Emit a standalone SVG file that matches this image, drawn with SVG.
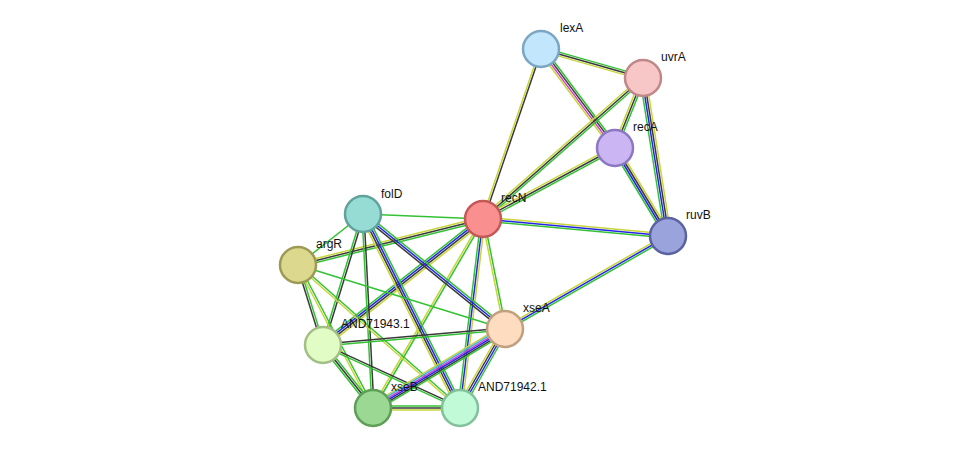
<svg xmlns="http://www.w3.org/2000/svg" width="975" height="455" viewBox="0 0 975 455">
<style>
line{stroke-width:1.5;fill:none}
.g{stroke:#33c233}.y{stroke:#c7d53a}.k{stroke:#3a3a3a}.b{stroke:#2424e8}.m{stroke:#d23ad2}.c{stroke:#3cb4dc}
circle{stroke-width:2.5}
text{font-family:"Liberation Sans",Arial,sans-serif;font-size:12px;fill:#111}
</style>
<rect width="975" height="455" fill="#fff"/>
<g id="edges">
<line class="g" x1="541.5" y1="47.1" x2="643.5" y2="76.1"/><line class="k" x1="541" y1="49" x2="643" y2="78"/><line class="y" x1="540.5" y1="50.9" x2="642.5" y2="79.9"/>
<line class="g" x1="543.4" y1="47.2" x2="617.4" y2="146.2"/><line class="k" x1="541.8" y1="48.4" x2="615.8" y2="147.4"/><line class="m" x1="540.2" y1="49.6" x2="614.2" y2="148.6"/><line class="y" x1="538.6" y1="50.8" x2="612.6" y2="149.8"/>
<line class="k" x1="541.9" y1="49.3" x2="483.9" y2="219.3"/><line class="y" x1="540.1" y1="48.7" x2="482.1" y2="218.7"/>
<line class="g" x1="644.9" y1="78.7" x2="616.9" y2="148.7"/><line class="k" x1="643" y1="78" x2="615" y2="148"/><line class="y" x1="641.1" y1="77.3" x2="613.1" y2="147.3"/>
<line class="g" x1="644.3" y1="79.5" x2="484.3" y2="220.5"/><line class="k" x1="643" y1="78" x2="483" y2="219"/><line class="y" x1="641.7" y1="76.5" x2="481.7" y2="217.5"/>
<line class="y" x1="646" y1="77.5" x2="671" y2="235.5"/><line class="k" x1="644" y1="77.8" x2="669" y2="235.8"/><line class="b" x1="642" y1="78.2" x2="667" y2="236.2"/><line class="g" x1="640" y1="78.5" x2="665" y2="236.5"/>
<line class="g" x1="615.9" y1="149.8" x2="483.9" y2="220.8"/><line class="k" x1="615" y1="148" x2="483" y2="219"/><line class="y" x1="614.1" y1="146.2" x2="482.1" y2="217.2"/>
<line class="y" x1="617.6" y1="146.5" x2="670.6" y2="234.5"/><line class="k" x1="615.9" y1="147.5" x2="668.9" y2="235.5"/><line class="b" x1="614.2" y1="148.5" x2="667.2" y2="236.5"/><line class="g" x1="612.5" y1="149.5" x2="665.5" y2="237.5"/>
<line class="y" x1="483.2" y1="217" x2="668.2" y2="234"/><line class="b" x1="483" y1="219" x2="668" y2="236"/><line class="g" x1="482.8" y1="221" x2="667.8" y2="238"/>
<line class="g" x1="483" y1="219" x2="363" y2="214"/>
<line class="g" x1="483.5" y1="220.9" x2="298.5" y2="266.9"/><line class="k" x1="483" y1="219" x2="298" y2="265"/><line class="y" x1="482.5" y1="217.1" x2="297.5" y2="263.1"/>
<line class="y" x1="484.9" y1="221.3" x2="324.9" y2="347.3"/><line class="k" x1="483.6" y1="219.8" x2="323.6" y2="345.8"/><line class="b" x1="482.4" y1="218.2" x2="322.4" y2="344.2"/><line class="g" x1="481.1" y1="216.7" x2="321.1" y2="342.7"/>
<line class="g" x1="484" y1="218.8" x2="506" y2="328.8"/><line class="y" x1="482" y1="219.2" x2="504" y2="329.2"/>
<line class="g" x1="483.9" y1="219.5" x2="373.9" y2="408.5"/><line class="y" x1="482.1" y1="218.5" x2="372.1" y2="407.5"/>
<line class="y" x1="485" y1="219.2" x2="462" y2="408.2"/><line class="b" x1="483" y1="219" x2="460" y2="408"/><line class="g" x1="481" y1="218.8" x2="458" y2="407.8"/>
<line class="g" x1="669" y1="237.7" x2="506" y2="330.7"/><line class="b" x1="668" y1="236" x2="505" y2="329"/><line class="y" x1="667" y1="234.3" x2="504" y2="327.3"/>
<line class="g" x1="363" y1="214" x2="298" y2="265"/>
<line class="k" x1="364" y1="214.3" x2="324" y2="345.3"/><line class="g" x1="362" y1="213.7" x2="322" y2="344.7"/>
<line class="k" x1="364" y1="214" x2="374" y2="408"/><line class="g" x1="362" y1="214" x2="372" y2="408"/>
<line class="g" x1="365.7" y1="212.7" x2="462.7" y2="406.7"/><line class="b" x1="363.9" y1="213.6" x2="460.9" y2="407.6"/><line class="k" x1="362.1" y1="214.5" x2="459.1" y2="408.5"/><line class="y" x1="360.3" y1="215.4" x2="457.3" y2="409.4"/>
<line class="g" x1="364.3" y1="212.4" x2="506.3" y2="327.4"/><line class="b" x1="363" y1="214" x2="505" y2="329"/><line class="k" x1="361.7" y1="215.6" x2="503.7" y2="330.6"/>
<line class="g" x1="299" y1="264.7" x2="324" y2="344.7"/><line class="k" x1="297" y1="265.3" x2="322" y2="345.3"/>
<line class="g" x1="298.9" y1="264.5" x2="373.9" y2="407.5"/><line class="y" x1="297.1" y1="265.5" x2="372.1" y2="408.5"/>
<line class="g" x1="298.7" y1="264.2" x2="460.7" y2="407.2"/><line class="y" x1="297.3" y1="265.8" x2="459.3" y2="408.8"/>
<line class="g" x1="298" y1="265" x2="505" y2="329"/>
<line class="k" x1="322.9" y1="344" x2="504.9" y2="328"/><line class="g" x1="323.1" y1="346" x2="505.1" y2="330"/>
<line class="g" x1="324.6" y1="343.7" x2="374.6" y2="406.7"/><line class="k" x1="323" y1="345" x2="373" y2="408"/><line class="g" x1="321.4" y1="346.3" x2="371.4" y2="409.3"/>
<line class="k" x1="323.4" y1="344.1" x2="460.4" y2="407.1"/><line class="g" x1="322.6" y1="345.9" x2="459.6" y2="408.9"/>
<line class="y" x1="503" y1="325.6" x2="371" y2="404.6"/><line class="c" x1="503.8" y1="326.9" x2="371.8" y2="405.9"/><line class="m" x1="504.6" y1="328.3" x2="372.6" y2="407.3"/><line class="b" x1="505.4" y1="329.7" x2="373.4" y2="408.7"/><line class="k" x1="506.2" y1="331.1" x2="374.2" y2="410.1"/><line class="g" x1="507" y1="332.4" x2="375" y2="411.4"/>
<line class="g" x1="507.6" y1="330.5" x2="462.6" y2="409.5"/><line class="b" x1="505.9" y1="329.5" x2="460.9" y2="408.5"/><line class="k" x1="504.1" y1="328.5" x2="459.1" y2="407.5"/><line class="y" x1="502.4" y1="327.5" x2="457.4" y2="406.5"/>
<line class="g" x1="373" y1="406" x2="460" y2="406"/><line class="k" x1="373" y1="408" x2="460" y2="408"/><line class="y" x1="373" y1="410" x2="460" y2="410"/>
</g>
<g id="lexA"><circle cx="541" cy="49" r="18" fill="#c2e6fb" stroke="#7ba6c4"/><text x="560" y="32">lexA</text></g>
<g id="uvrA"><circle cx="643" cy="78" r="18" fill="#f7c6c6" stroke="#c08888"/><text x="661" y="61">uvrA</text></g>
<g id="recA"><circle cx="615" cy="148" r="18" fill="#cbb6f3" stroke="#8c78c2"/><text x="633" y="131">recA</text></g>
<g id="recN"><circle cx="483" cy="219" r="18" fill="#f98f8f" stroke="#c45858"/><text x="501" y="202">recN</text></g>
<g id="ruvB"><circle cx="668" cy="236" r="18" fill="#9aa3dc" stroke="#5a62a0"/><text x="686" y="219">ruvB</text></g>
<g id="folD"><circle cx="363" cy="214" r="18" fill="#96dcd5" stroke="#5fa39b"/><text x="381" y="198">folD</text></g>
<g id="argR"><circle cx="298" cy="265" r="18" fill="#dcd98f" stroke="#9d9a55"/><text x="316" y="248">argR</text></g>
<g id="AND71943.1"><circle cx="323" cy="345" r="18" fill="#e1fcc4" stroke="#a4bf86"/><text x="341" y="328">AND71943.1</text></g>
<g id="xseA"><circle cx="505" cy="329" r="18" fill="#fddcbf" stroke="#c0a07f"/><text x="523" y="312">xseA</text></g>
<g id="xseB"><circle cx="373" cy="408" r="18" fill="#9bd893" stroke="#5e9f57"/><text x="391" y="391">xseB</text></g>
<g id="AND71942.1"><circle cx="460" cy="408" r="18" fill="#c0fad7" stroke="#83c09c"/><text x="478" y="391">AND71942.1</text></g>
</svg>
